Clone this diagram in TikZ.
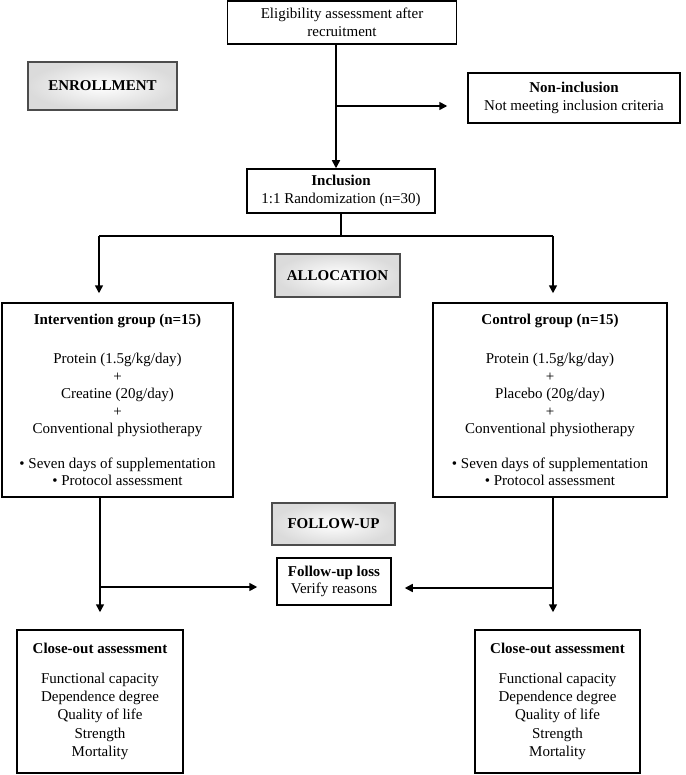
\documentclass[tikz,border=0pt]{standalone}
\usepackage{fontspec}
\setmainfont{Liberation Serif}
\usetikzlibrary{arrows.meta}

\begin{document}
\begin{tikzpicture}[x=1pt,y=-1pt,
      every node/.style={font=\fontsize{15}{17.5}\selectfont, align=center, inner sep=0pt},
      box/.style={rectangle, draw=black, line width=1.5pt},
      stage/.style={rectangle, draw=black!70, line width=1.2pt, inner color=white, outer color=gray!28, font=\fontsize{15}{17.5}\selectfont\bfseries},
      closeout/.style={box, minimum width=166pt, minimum height=143pt, font=\fontsize{15}{18.3}\selectfont},
      link/.style={line width=1.6pt, draw=black},
      pointer/.style={link, -{Triangle[length=8pt,width=8pt]}}
      ]
      \useasboundingbox (0,0) rectangle (685,775);

      \node[box, minimum width=229pt, minimum height=43pt] (elig) at (342,22.5) {Eligibility assessment after\\recruitment};
      \node[stage, minimum width=149pt, minimum height=48pt] (enroll) at (102.5,86) {ENROLLMENT};
      \node[box, minimum width=212pt, minimum height=50pt] (noninc) at (574,98) {\textbf{Non-inclusion}\\Not meeting inclusion criteria};
      \node[box, minimum width=188pt, minimum height=44pt] (incl) at (341,191) {\textbf{Inclusion}\\1:1 Randomization (n=30)};
      \node[stage, minimum width=125pt, minimum height=43pt] (alloc) at (337.5,275.5) {ALLOCATION};
      \node[box, minimum width=231pt, minimum height=194pt] (interv) at (117.5,400) {
        \textbf{Intervention group (n=15)}\\[22pt]
        Protein (1.5g/kg/day)\\+\\Creatine (20g/day)\\+\\Conventional physiotherapy\\[17pt]
        \textbullet{} Seven days of supplementation\\\textbullet{} Protocol assessment};
      \node[box, minimum width=234pt, minimum height=194pt] (ctrl) at (550,400) {
        \textbf{Control group (n=15)}\\[22pt]
        Protein (1.5g/kg/day)\\+\\Placebo (20g/day)\\+\\Conventional physiotherapy\\[17pt]
        \textbullet{} Seven days of supplementation\\\textbullet{} Protocol assessment};
      \node[stage, minimum width=123pt, minimum height=42pt] (follow) at (333.5,524) {FOLLOW-UP};
      \node[box, minimum width=114pt, minimum height=47pt] (loss) at (334,581.5) {\textbf{Follow-up loss}\\Verify reasons};
      \node[closeout] (closeL) at (100,701.5) {
        \textbf{Close-out assessment}\\[11pt]
        Functional capacity\\Dependence degree\\Quality of life\\Strength\\Mortality};
      \node[closeout, minimum width=165pt] (closeR) at (557.5,701.5) {
        \textbf{Close-out assessment}\\[11pt]
        Functional capacity\\Dependence degree\\Quality of life\\Strength\\Mortality};

      \coordinate (j1) at (336,106);
      \coordinate (jl) at (99,236);
      \coordinate (jr) at (553,236);
      \coordinate (ll) at (100,587);
      \coordinate (rr) at (553,588);

      \path[link] (j1 |- elig.south) -- (j1);
      \path[pointer] (j1) -- (j1 |- incl.north);
      \path[pointer, shorten >=20pt] (j1) -- (j1 -| noninc.west);
      \path[link] (incl.south) -- (incl.south |- jl);
      \path[link] (jl) -- (jr);
      \path[pointer, shorten >=9pt] (jl) -- (jl |- interv.north);
      \path[pointer, shorten >=9pt] (jr) -- (jr |- ctrl.north);
      \path[link] (ll |- interv.south) -- (ll);
      \path[pointer, shorten >=17pt] (ll) -- (ll |- closeL.north);
      \path[pointer, shorten >=19pt] (ll) -- (ll -| loss.west);
      \path[link] (rr |- ctrl.south) -- (rr);
      \path[pointer, shorten >=17pt] (rr) -- (rr |- closeR.north);
      \path[pointer, shorten >=13pt] (rr) -- (rr -| loss.east);
    \end{tikzpicture}
\end{document}
